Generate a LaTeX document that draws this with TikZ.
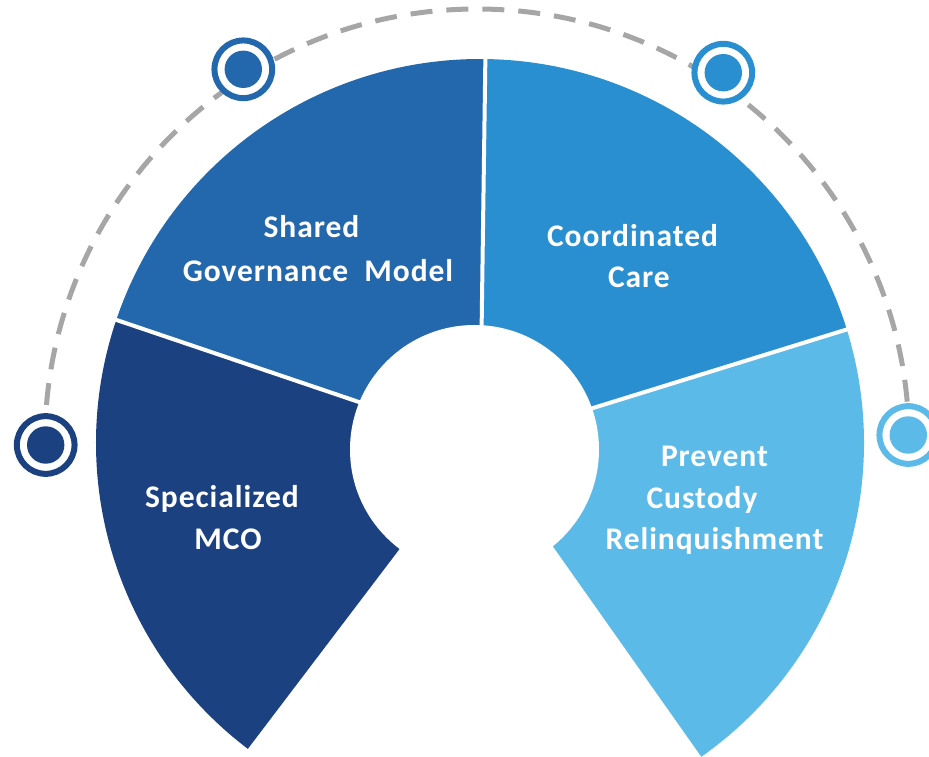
\documentclass[tikz,border=0pt]{standalone}
\usepackage{fontspec}
\newfontfamily\lblfont[LetterSpace=3]{Carlito}
\definecolor{cDark}{HTML}{1C4181}
\definecolor{cBlue}{HTML}{2367AC}
\definecolor{cMed}{HTML}{2A8FD0}
\definecolor{cLight}{HTML}{5BBAE8}
\definecolor{cDash}{HTML}{A6A6A6}
\tikzset{
  lbl/.style={text=white, inner sep=0pt, anchor=base, font=\lblfont\bfseries\fontsize{31.5}{36}\selectfont},
  ringnode/.style={circle, draw=#1, fill=white, line width=6pt, minimum size=57.7pt, inner sep=0pt},
  dotnode/.style={circle, fill=#1, minimum size=37.4pt, inner sep=0pt},
  gapline/.style={white, line width=4pt},
  dasharc/.style={cDash, line width=5pt, dash pattern=on 22pt off 14pt}
}
\begin{document}
\begin{tikzpicture}[x=1pt,y=1pt]
\useasboundingbox (0,0) rectangle (929,756);
\coordinate (O) at (480,313);
\coordinate (I) at (474.5,306.5);
\coordinate (D) at (477,315);
% dashed arc
\draw[dasharc] (D) ++(180:432) arc[start angle=180, end angle=0, radius=432];
% segments
\fill[cDark] (O) -- ++(161.3:384) arc[start angle=161.3, end angle=232.8, radius=384] -- cycle;
\fill[cBlue] (O) -- ++(89.2:384) arc[start angle=89.2, end angle=161.3, radius=384] -- cycle;
\fill[cMed] (O) -- ++(17.2:384) arc[start angle=17.2, end angle=89.2, radius=384] -- cycle;
\fill[cLight] (O) -- ++(-54.8:384) arc[start angle=-54.8, end angle=17.2, radius=384] -- cycle;
% gaps
\draw[gapline] (O) -- ++(161.3:395);
\draw[gapline] (O) -- ++(89.2:395);
\draw[gapline] (O) -- ++(17.2:395);
% inner hole
\fill[white] (I) circle[radius=124.5];
% circles on the dashed arc
\node[ringnode=cDark] (c1) at (45.7,311) {};
\node[dotnode=cDark] (d1) at (c1) {};
\node[ringnode=cBlue] (c2) at (243.3,686.7) {};
\node[dotnode=cBlue] (d2) at (c2) {};
\node[ringnode=cMed] (c3) at (723.3,683.3) {};
\node[dotnode=cMed] (d3) at (c3) {};
\node[ringnode=cLight] (c4) at (908.3,321) {};
\node[dotnode=cLight] (d4) at (c4) {};
% labels
\node[lbl] (t1) at (311.5,518.3) {Shared};
\node[lbl] (t2) at (318,474.5) {Governance\ \ Model};
\node[lbl] (t3) at (632.5,509) {Coordinated};
\node[lbl] (t4) at (639,468) {Care};
\node[lbl] (t5) at (222,249) {Specialized};
\node[lbl] (t6) at (228,207) {MCO};
\node[lbl] (t7) at (714.5,290) {Prevent};
\node[lbl] (t8) at (702,248) {Custody};
\node[lbl] (t9) at (714.5,206.5) {Relinquishment};
\end{tikzpicture}
\end{document}
